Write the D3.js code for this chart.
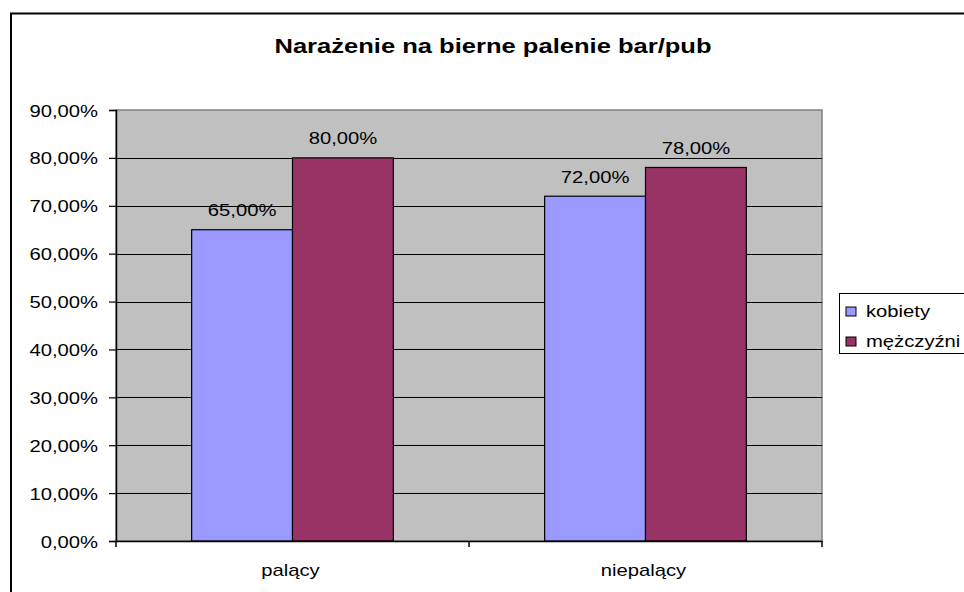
<!DOCTYPE html>
<html>
<head>
<meta charset="utf-8">
<script src="https://cdn.jsdelivr.net/npm/d3@7"></script>
<style>
  html, body { margin: 0; padding: 0; background: #fff; }
  svg { display: block; }
  text { font-family: "Liberation Sans", Arial, sans-serif; fill: #000; }
</style>
</head>
<body>
<svg id="chart" width="964" height="592"></svg>
<script>
// ---- data ----
const title = "Narażenie na bierne palenie bar/pub";
const categories = ["palący", "niepalący"];
const seriesNames = ["kobiety", "mężczyźni"];
const kobiety = [0.65, 0.72];
const mezczyzni = [0.80, 0.78];
const yTickValues = [0, 0.1, 0.2, 0.3, 0.4, 0.5, 0.6, 0.7, 0.8, 0.9];
const seriesColors = ["#9999FF", "#993366"];

const seriesValues = [kobiety, mezczyzni];

const svg = d3.select("#chart");
const plot = { left: 116, right: 822, top: 110, bottom: 541 };
const SX = 1.19; // horizontal stretch of the original rendering
const FS = 17;

const fmt = v => d3.format(".2f")(v * 100).replace(".", ",") + "%";

function txt(g, x, y, s, opts = {}) {
  return g.append("text")
    .attr("transform", `translate(${x},${y}) scale(${opts.sx || SX},1)`)
    .attr("text-anchor", opts.anchor || "middle")
    .style("font-size", (opts.size || FS) + "px")
    .style("font-weight", opts.weight || "normal")
    .text(s);
}

// outer chart border
svg.append("rect")
  .attr("x", 11).attr("y", 13.5)
  .attr("width", 1000).attr("height", 700)
  .attr("fill", "#fff").attr("stroke", "#000").attr("stroke-width", 2);

// title
txt(svg, 493, 53, title, { size: 19.5, weight: "bold", sx: 1.31 });

const y = d3.scaleLinear().domain([0, 0.9]).range([plot.bottom, plot.top]);
const x0 = d3.scaleBand().domain(categories).range([plot.left, plot.right]).padding(0);
const x1 = d3.scaleBand().domain(seriesNames).range([0, x0.bandwidth()])
  .paddingInner(0).paddingOuter(0.75);

// plot background
svg.append("rect")
  .attr("x", plot.left).attr("y", plot.top)
  .attr("width", plot.right - plot.left).attr("height", plot.bottom - plot.top)
  .attr("fill", "#C0C0C0").attr("stroke", "#808080").attr("stroke-width", 1.5);

// gridlines
svg.append("g").selectAll("line")
  .data(yTickValues.filter(d => d > 0 && d < 0.9))
  .join("line")
  .attr("x1", plot.left).attr("x2", plot.right)
  .attr("y1", d => Math.round(y(d)) + 0.5).attr("y2", d => Math.round(y(d)) + 0.5)
  .attr("stroke", "#000").attr("stroke-width", 1);

// bars
const groups = svg.append("g").selectAll("g")
  .data(categories)
  .join("g")
  .attr("transform", d => `translate(${x0(d)},0)`);

groups.each(function (cat, ci) {
  const g = d3.select(this);
  seriesNames.forEach((s, si) => {
    const v = seriesValues[si][ci];
    g.append("rect")
      .attr("x", x1(s)).attr("y", y(v))
      .attr("width", x1.bandwidth()).attr("height", y(0) - y(v))
      .attr("fill", seriesColors[si])
      .attr("stroke", "#000").attr("stroke-width", 1.2);
    txt(g, x1(s) + x1.bandwidth() / 2, y(v) - 13.5, fmt(v));
  });
});

// y axis
const yAxis = svg.append("g").attr("transform", `translate(${plot.left},0)`)
  .call(d3.axisLeft(y).tickValues(yTickValues).tickSize(7).tickFormat(""));
yAxis.select(".domain").attr("stroke", "#000").attr("stroke-width", 1.5);
yAxis.selectAll(".tick line").attr("stroke", "#000").attr("stroke-width", 1.2);
yTickValues.forEach(v => {
  txt(svg, 98, y(v) + 6.5, fmt(v), { anchor: "end" });
});

// x axis
const xAxis = svg.append("g").attr("transform", `translate(0,${plot.bottom})`)
  .call(d3.axisBottom(x0).tickSize(0).tickFormat(""));
xAxis.select(".domain").attr("stroke", "#000").attr("stroke-width", 1.5);
const boundaries = [plot.left].concat(categories.map(c => x0(c) + x0.bandwidth()));
svg.append("g").selectAll("line").data(boundaries).join("line")
  .attr("x1", d => d).attr("x2", d => d)
  .attr("y1", plot.bottom).attr("y2", plot.bottom + 6)
  .attr("stroke", "#000").attr("stroke-width", 1.5);
categories.forEach(c => {
  txt(svg, x0(c) + x0.bandwidth() / 2 - 2, 575.5, c);
});

// legend
const legend = svg.append("g");
legend.append("rect")
  .attr("x", 839.5).attr("y", 293.5).attr("width", 200).attr("height", 60)
  .attr("fill", "#fff").attr("stroke", "#000").attr("stroke-width", 1);
seriesNames.forEach((s, i) => {
  const ly = 307 + i * 30;
  legend.append("rect")
    .attr("x", 846).attr("y", ly).attr("width", 10).attr("height", 9)
    .attr("fill", seriesColors[i]).attr("stroke", "#000").attr("stroke-width", 1);
  txt(legend, 866, ly + 10, s, { anchor: "start" });
});
</script>
</body>
</html>
